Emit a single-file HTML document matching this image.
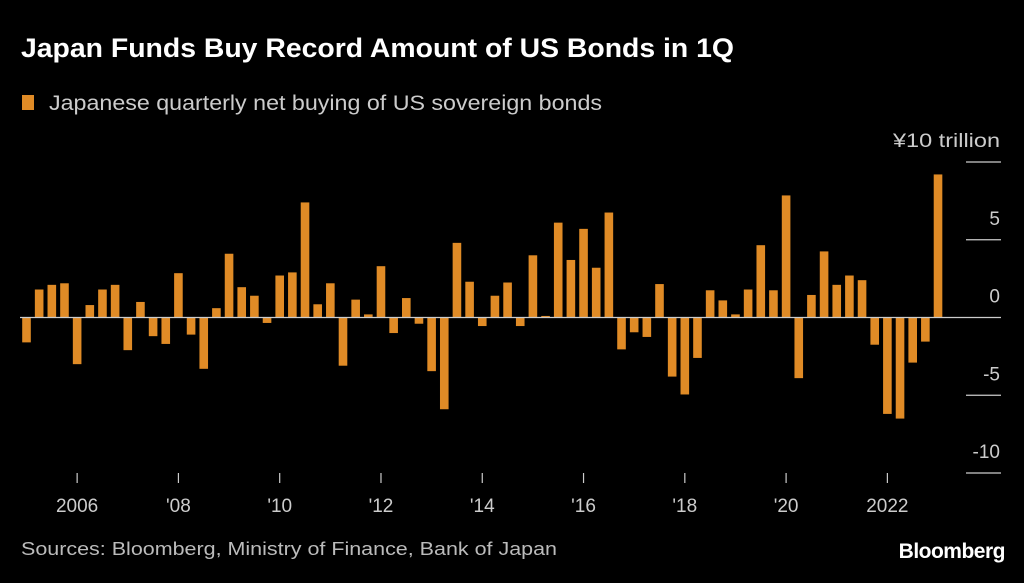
<!DOCTYPE html>
<html><head><meta charset="utf-8"><style>
body{margin:0;background:#000;width:1024px;height:578px;overflow:hidden;font-family:"Liberation Sans",sans-serif}
</style></head><body>
<svg width="1024" height="578">
<text x="21" y="57" fill="#fff" font-size="27" font-weight="bold" textLength="713" lengthAdjust="spacingAndGlyphs">Japan Funds Buy Record Amount of US Bonds in 1Q</text>
<rect x="22" y="95" width="12" height="15" fill="#E08B26"/>
<text x="49" y="110" fill="#ccc" font-size="21" textLength="553" lengthAdjust="spacingAndGlyphs">Japanese quarterly net buying of US sovereign bonds</text>
<g id="axis"></g>
<g id="bars"></g>
<text x="21" y="555" fill="#bbb" font-size="18" textLength="536" lengthAdjust="spacingAndGlyphs">Sources: Bloomberg, Ministry of Finance, Bank of Japan</text>
<text x="1005" y="558" fill="#fff" font-size="21" font-weight="bold" text-anchor="end" letter-spacing="-0.5">Bloomberg</text>
</svg>
<script>
const values=[-1.6,1.8,2.1,2.2,-3.0,0.8,1.8,2.1,-2.1,1.0,-1.2,-1.7,2.85,-1.1,-3.3,0.6,4.1,1.95,1.4,-0.35,2.7,2.9,7.4,0.85,2.2,-3.1,1.15,0.2,3.3,-1.0,1.25,-0.4,-3.45,-5.9,4.8,2.3,-0.55,1.4,2.25,-0.55,4.0,0.1,6.1,3.7,5.7,3.2,6.75,-2.05,-0.95,-1.25,2.15,-3.8,-4.95,-2.6,1.75,1.1,0.2,1.8,4.65,1.75,7.85,-3.9,1.45,4.25,2.1,2.7,2.4,-1.75,-6.2,-6.5,-2.9,-1.55,9.2];
const yTicks=[10,5,0,-5,-10];
const yTickLabels=["¥10 trillion","5","0","-5","-10"];
const xTickIndex=[4,12,20,28,36,44,52,60,68];
const xTickLabels=["2006","'08","'10","'12","'14","'16","'18","'20","2022"];
const NS="http://www.w3.org/2000/svg";
const y0=317.5,pxU=15.55,x0=26.5,step=12.66,bw=8.6;
const Y=v=>y0-v*pxU, X=i=>x0+i*step;
function mk(t,a,p){const e=document.createElementNS(NS,t);for(const k in a)e.setAttribute(k,a[k]);p.appendChild(e);return e;}
const ax=document.getElementById('axis'),bg=document.getElementById('bars');
yTicks.forEach((v,i)=>{
 if(v!==0){const l=mk('line',{x1:966,x2:1001,y1:Y(v),y2:Y(v),stroke:'#ccc','stroke-width':1.2},ax);
 
 }
 const t=mk('text',{x:1000,y:Y(v)-15,fill:'#ccc','font-size':19,'text-anchor':'end'},ax);
 t.textContent=yTickLabels[i];
 
 
 if(i===0){t.setAttribute('textLength','107');t.setAttribute('lengthAdjust','spacingAndGlyphs');}
});
xTickIndex.forEach((idx,i)=>{
 const l=mk('line',{x1:X(idx),x2:X(idx),y1:473,y2:483,stroke:'#ccc','stroke-width':1.2},ax);
 
 
 const t=mk('text',{x:X(idx),y:512,fill:'#ccc','font-size':19,'text-anchor':'middle'},ax);
 t.textContent=xTickLabels[i];
 
 
});
values.forEach((v,i)=>{
 const r=mk('rect',{x:X(i)-bw/2,y:Math.min(Y(v),y0),width:bw,height:Math.abs(Y(v)-y0),fill:'#E08B26'},bg);
 
 
});
const z=mk('line',{x1:20,x2:1001,y1:y0,y2:y0,stroke:'#ccc','stroke-width':1.2},bg);


</script>
</body></html>
